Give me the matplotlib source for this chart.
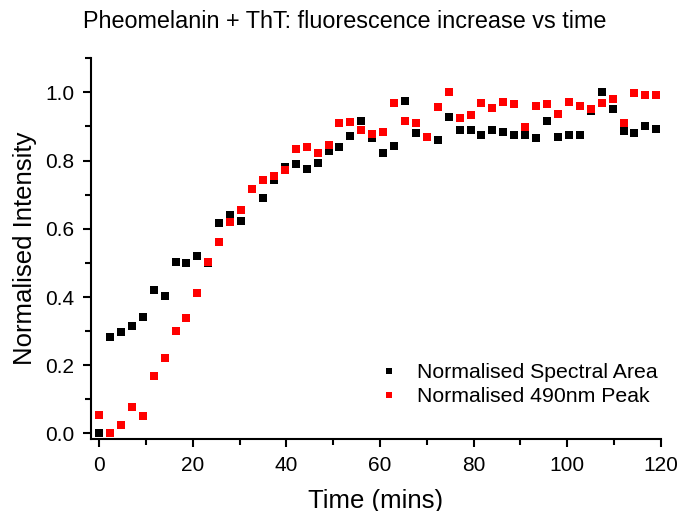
import matplotlib
matplotlib.use("Agg")
import matplotlib.pyplot as plt
from matplotlib.ticker import MultipleLocator

plt.rcParams['font.family'] = ['Liberation Sans', 'DejaVu Sans']

# time points (mins)
time_min = [0, 2.33, 4.67, 7, 9.33, 11.67, 14, 16.33, 18.67, 21, 23.33, 25.67,
            28, 30.33, 32.67, 35, 37.33, 39.67, 42, 44.33, 46.67, 49, 51.33, 53.67,
            56, 58.33, 60.67, 63, 65.33, 67.67, 70, 72.33, 74.67, 77, 79.33, 81.67,
            84, 86.33, 88.67, 91, 93.33, 95.67, 98, 100.33, 102.67, 105, 107.33,
            109.67, 112, 114.33, 116.67, 119]

spectral_area = [0.000, 0.284, 0.298, 0.316, 0.342, 0.421, 0.403, 0.502, 0.499, 0.521,
                 0.500, 0.618, 0.641, 0.624, 0.717, 0.691, 0.742, 0.780, 0.789, 0.776,
                 0.793, 0.829, 0.840, 0.871, 0.916, 0.865, 0.821, 0.842, 0.974, 0.881,
                 0.868, 0.861, 0.928, 0.891, 0.890, 0.876, 0.891, 0.885, 0.874, 0.875,
                 0.867, 0.917, 0.870, 0.876, 0.876, 0.945, 1.000, 0.950, 0.887, 0.880,
                 0.901, 0.894]

peak_490 = [0.055, 0.000, 0.026, 0.077, 0.051, 0.168, 0.221, 0.300, 0.340, 0.411,
            0.502, 0.562, 0.621, 0.656, 0.717, 0.744, 0.756, 0.772, 0.835, 0.840,
            0.823, 0.847, 0.911, 0.913, 0.889, 0.877, 0.883, 0.968, 0.917, 0.911,
            0.868, 0.958, 1.000, 0.925, 0.935, 0.970, 0.955, 0.971, 0.967, 0.899,
            0.961, 0.967, 0.937, 0.971, 0.959, 0.951, 0.968, 0.982, 0.911, 0.998,
            0.991, 0.991]

labels = ["Normalised Spectral Area", "Normalised 490nm Peak"]

fig = plt.figure(figsize=(6.8, 5.11), dpi=100)
ax = fig.add_axes([0.134, 0.141, 0.838, 0.745])

ax.plot(time_min, spectral_area, 's', color='black', markersize=6.2,
        markeredgewidth=0, label=labels[0])
ax.plot(time_min, peak_490, 's', color='red', markersize=6.2,
        markeredgewidth=0, label=labels[1])

ax.set_xlim(-1.7, 120)
ax.set_ylim(-0.016, 1.1)
ax.xaxis.set_major_locator(MultipleLocator(20))
ax.xaxis.set_minor_locator(MultipleLocator(10))
ax.yaxis.set_major_locator(MultipleLocator(0.2))
ax.yaxis.set_minor_locator(MultipleLocator(0.1))
ax.yaxis.set_major_formatter(matplotlib.ticker.FormatStrFormatter('%.1f'))

for s in ['top', 'right']:
    ax.spines[s].set_visible(False)
for s in ['left', 'bottom']:
    ax.spines[s].set_linewidth(1.5)

ax.tick_params(which='major', direction='out', length=6, width=1.5, labelsize=15, pad=6)
ax.tick_params(which='minor', direction='out', length=4, width=1.5)

ax.set_xlabel("Time (mins)", fontsize=18.5, labelpad=10)
ax.set_ylabel("Normalised Intensity", fontsize=18.5, labelpad=6)

fig.text(0.507, 1 - 21 / 511, "Pheomelanin + ThT: fluorescence increase vs time",
         ha='center', va='center', fontsize=16.8)

ax.legend(loc='upper left', bbox_to_anchor=(0.557, 0.289), bbox_transform=fig.transFigure,
          frameon=False, fontsize=15.3, markerscale=0.7, handlelength=1.0,
          handletextpad=0.8, labelspacing=0.22, borderpad=0, borderaxespad=0)

fig.savefig("out.png", dpi=100)
